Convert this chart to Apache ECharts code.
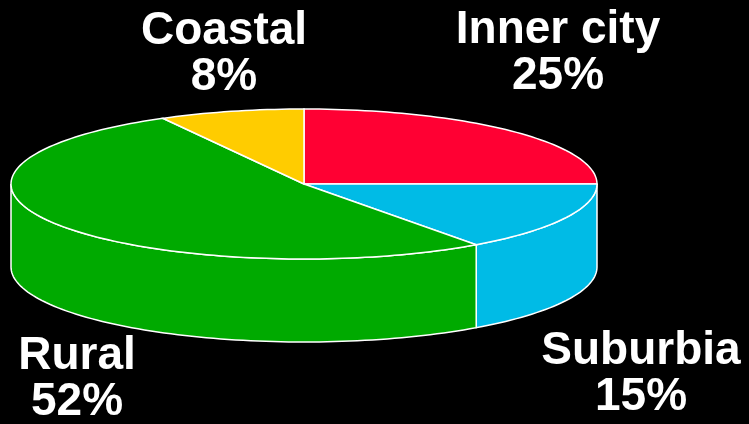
<!DOCTYPE html>
<html>
<head>
<meta charset="utf-8">
<script src="https://cdn.jsdelivr.net/npm/echarts@6/dist/echarts.min.js"></script>
<style>
  html, body { margin: 0; background: #000; }
  #chart { width: 749px; height: 424px; }
</style>
</head>
<body>
<div id="chart"></div>
<script>
// Slices, clockwise from 12 o'clock
const regions = ['Inner city', 'Suburbia', 'Rural', 'Coastal'];
const shares = [25, 15, 52, 8];
const sliceColors = ['#ff0033', '#00bbe6', '#00aa00', '#ffcc00'];
// centre of each two-line label block
const labelAnchors = [[558, 53], [641, 374], [77, 379], [224, 54]];

// tilted disc geometry
const pie = { cx: 304, cy: 184, rx: 293, ry: 75, depth: 83 };
const total = shares.reduce((a, b) => a + b, 0);

const pt = (theta, dy) => [
  pie.cx + pie.rx * Math.sin(theta),
  pie.cy - pie.ry * Math.cos(theta) + dy
];

function arc(a0, a1, dy) {
  const n = Math.max(2, Math.ceil((a1 - a0) / (Math.PI / 120)));
  const out = [];
  for (let i = 0; i <= n; i++) out.push(pt(a0 + (a1 - a0) * i / n, dy));
  return out;
}

function renderSlice(params, api) {
  const i = params.dataIndex;
  const value = api.value(0);
  let before = 0;
  for (let k = 0; k < i; k++) before += shares[k];
  const a0 = before / total * 2 * Math.PI;
  const a1 = (before + value) / total * 2 * Math.PI;
  const color = sliceColors[i];
  const edge = { stroke: '#fff', lineWidth: 1.5 };
  const children = [];

  // outer wall, only the front half shows
  const f0 = Math.max(a0, Math.PI / 2);
  const f1 = Math.min(a1, Math.PI * 1.5);
  if (f1 > f0) {
    const top = arc(f0, f1, 0);
    const bottom = arc(f0, f1, pie.depth).reverse();
    children.push({
      type: 'polygon',
      shape: { points: top.concat(bottom) },
      style: Object.assign({ fill: color }, edge)
    });
  }

  // top face
  children.push({
    type: 'polygon',
    shape: { points: [[pie.cx, pie.cy]].concat(arc(a0, a1, 0)) },
    style: Object.assign({ fill: color }, edge)
  });

  children.push({
    type: 'text',
    style: {
      text: regions[i] + '\n' + value + '%',
      x: labelAnchors[i][0],
      y: labelAnchors[i][1],
      fill: '#fff',
      fontFamily: '"Liberation Sans", Arial, sans-serif',
      fontWeight: 'bold',
      fontSize: 46,
      lineHeight: 46,
      align: 'center',
      verticalAlign: 'middle'
    }
  });

  return { type: 'group', children };
}

const chart = echarts.init(document.getElementById('chart'));
chart.setOption({
  backgroundColor: '#000',
  animation: false,
  series: [{
    type: 'custom',
    coordinateSystem: 'none',
    silent: true,
    renderItem: renderSlice,
    data: shares
  }]
});
</script>
</body>
</html>
